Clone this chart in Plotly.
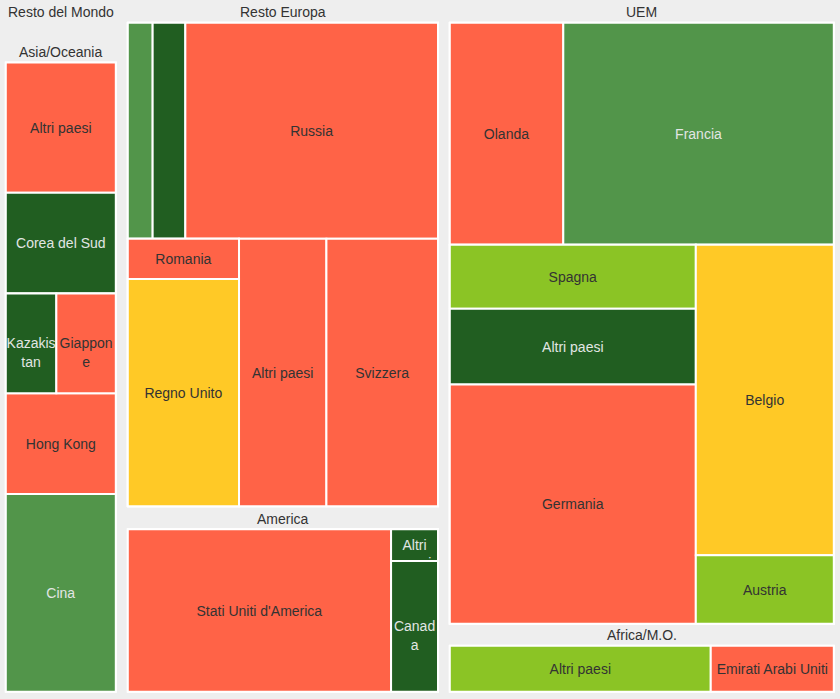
import plotly.graph_objects as go

W, H = 840, 699

# ---------------- data (values read from tile areas) ----------------
# colour classes
CLASS_COLORS = {
    "rosso": "#ff6347",
    "verde": "#52954a",
    "verde_scuro": "#215e21",
    "verde_chiaro": "#8bc425",
    "giallo": "#ffc926",
}
CLASS_TEXT = {
    "rosso": "#333333",
    "verde": "#e2e6e4",
    "verde_scuro": "#e2e6e4",
    "verde_chiaro": "#333333",
    "giallo": "#333333",
}

top_header = "Resto del Mondo"

NB = "\u00a0<br>"  # wrapped labels: first line sits at the tile centre

asia_name = "Asia/Oceania"
asia_labels = ["Altri paesi", "Corea del Sud", "Kazakistan", "Giappone", "Hong Kong", "Cina"]
asia_text = ["Altri paesi", "Corea del Sud", NB + "Kazakis<br>tan", NB + "Giappon<br>e", "Hong Kong", "Cina"]
asia_values = [145, 112, 51, 60, 112, 220]
asia_classes = ["rosso", "verde_scuro", "verde_scuro", "rosso", "rosso", "verde"]

europa_name = "Resto Europa"
europa_labels = ["n.d. 1", "n.d. 2", "Russia", "Romania", "Regno Unito", "Altri paesi", "Svizzera"]
europa_text = ["", "", "Russia", "Romania", "Regno Unito", "Altri paesi", "Svizzera"]
europa_values = [54, 71, 549, 45, 254, 235, 300]
europa_classes = ["verde", "verde_scuro", "rosso", "rosso", "giallo", "rosso", "rosso"]

america_name = "America"
america_labels = ["Stati Uniti d'America", "Altri paesi", "Canada"]
america_text = ["Stati Uniti d'America", NB + "Altri<br>paesi", NB + "Canad<br>a"]
america_values = [432, 15, 62]
america_classes = ["rosso", "verde_scuro", "verde_scuro"]

uem_name = "UEM"
uem_labels = ["Olanda", "Francia", "Spagna", "Altri paesi", "Germania", "Belgio", "Austria"]
uem_text = uem_labels
uem_values = [253, 603, 158, 187, 591, 430, 95]
uem_classes = ["rosso", "verde", "verde_chiaro", "verde_scuro", "rosso", "giallo", "verde_chiaro"]

africa_name = "Africa/M.O."
africa_labels = ["Altri paesi", "Emirati Arabi Uniti"]
africa_text = africa_labels
africa_values = [123, 58]
africa_classes = ["verde_chiaro", "rosso"]

BG = "#eeeeee"
FONT = "Liberation Sans, Arial, sans-serif"


def build(name, labels, texts, values, classes, spec):
    ids, labs, pars, vals, cols, txt, tcol = [], [], [], [], [], [], []
    root = name
    ids.append(root); labs.append(name); pars.append(""); vals.append(0)
    cols.append(BG); txt.append(""); tcol.append("#333333")
    counter = [0]

    def add(node, parent):
        if isinstance(node, int):
            nid = f"{name}/{labels[node]}/{node}"
            ids.append(nid); labs.append(labels[node]); pars.append(parent)
            vals.append(values[node]); cols.append(CLASS_COLORS[classes[node]])
            txt.append(texts[node]); tcol.append(CLASS_TEXT[classes[node]])
        else:
            counter[0] += 1
            gid = f"{name}/g{counter[0]}"
            ids.append(gid); labs.append(""); pars.append(parent); vals.append(0)
            cols.append(BG); txt.append(""); tcol.append("#333333")
            for ch in node:
                add(ch, gid)

    for ch in spec:
        add(ch, root)
    return ids, labs, pars, vals, cols, txt, tcol


def px_domain(x0, y0, x1, y1):
    return dict(x=[x0 / W, x1 / W], y=[1 - y1 / H, 1 - y0 / H])


blocks = [
    # name, labels, text, values, classes, nesting spec, packing, pixel box
    (asia_name, asia_labels, asia_text, asia_values, asia_classes,
     [0, 1, [2, 3], 4, 5], "dice-slice", (5.8, 62.5, 115.8, 691.8)),
    (europa_name, europa_labels, europa_text, europa_values, europa_classes,
     [[0, 1, 2], [[3, 4], 5, 6]], "dice-slice", (127.8, 22.8, 438.0, 506.2)),
    (america_name, america_labels, america_text, america_values, america_classes,
     [0, [1, 2]], "slice-dice", (127.8, 529.2, 438.0, 691.8)),
    (uem_name, uem_labels, uem_text, uem_values, uem_classes,
     [[0, 1], [[2, 3, 4], [5, 6]]], "dice-slice", (449.8, 22.8, 833.8, 623.8)),
    (africa_name, africa_labels, africa_text, africa_values, africa_classes,
     [0, 1], "slice-dice", (449.8, 645.8, 833.8, 691.8)),
]

fig = go.Figure()
annotations = []
for name, labels, texts, values, classes, spec, packing, box in blocks:
    ids, labs, pars, vals, cols, txt, tcol = build(name, labels, texts, values, classes, spec)
    fig.add_trace(go.Treemap(
        ids=ids, labels=labs, parents=pars, values=vals,
        branchvalues="remainder", sort=False,
        text=txt, texttemplate="%{text}", textposition="middle center",
        textfont=dict(family=FONT, size=14, color=tcol),
        marker=dict(colors=cols, line=dict(color="white", width=2),
                    pad=dict(t=0, l=0, r=0, b=0)),
        tiling=dict(packing=packing, pad=0),
        pathbar=dict(visible=False),
        hoverinfo="label+value",
        domain=px_domain(*box),
        name=name,
    ))
    x0, y0, x1, y1 = box
    annotations.append(dict(text=name, x=(x0 + x1) / 2 / W, y=1 - (y0 - 10.5) / H,
                            xref="paper", yref="paper", xanchor="center", yanchor="middle",
                            showarrow=False, font=dict(family=FONT, size=14, color="#333333")))

# top header above Asia/Oceania
annotations.append(dict(text=top_header, x=60.8 / W, y=1 - 12 / H, xref="paper", yref="paper",
                        xanchor="center", yanchor="middle", showarrow=False,
                        font=dict(family=FONT, size=14, color="#333333")))

fig.update_layout(
    width=W, height=H,
    margin=dict(l=0, r=0, t=0, b=0),
    paper_bgcolor=BG, plot_bgcolor=BG,
    showlegend=False,
    uniformtext=dict(minsize=14, mode="show"),
    annotations=annotations,
    font=dict(family=FONT, size=14, color="#333333"),
)

fig.write_html("out.html", config={"displayModeBar": False},
               post_script="document.body.style.margin='0px';document.body.style.background='#eeeeee';")
